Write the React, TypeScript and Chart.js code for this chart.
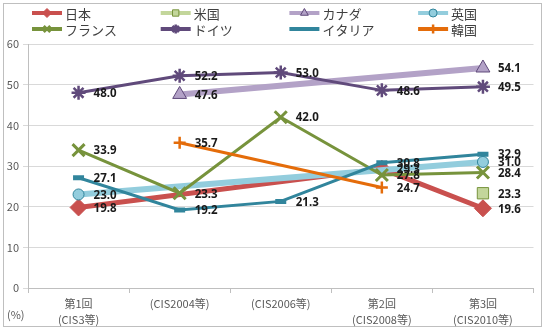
import React, { useEffect, useRef } from 'react';
import { Chart, registerables } from 'chart.js';
import { drawPoint } from 'chart.js/helpers';

Chart.register(...registerables);

// Survey rounds (x axis)
const categories: (string | string[])[] = [
  ['第1回', '(CIS3等)'],
  '(CIS2004等)',
  '(CIS2006等)',
  ['第2回', '(CIS2008等)'],
  ['第3回', '(CIS2010等)'],
];

const seriesNames = ['日本', '米国', 'カナダ', '英国', 'フランス', 'ドイツ', 'イタリア', '韓国'];

// Share (%) per country and round; null where no survey result
const japan = [19.8, null, null, 29.3, 19.6];
const usa = [null, null, null, null, 23.3];
const canada = [null, 47.6, null, null, 54.1];
const uk = [23.0, null, null, null, 31.0];
const france = [33.9, 23.3, 42.0, 27.8, 28.4];
const germany = [48.0, 52.2, 53.0, 48.6, 49.5];
const italy = [27.1, 19.2, 21.3, 30.8, 32.9];
const korea = [null, 35.7, null, 24.7, null];

const yMin = 0;
const yMax = 60;
const yStep = 10;

type Style = {
  color: string;
  width: number;
  point: string;
  radius: number;
  fill: string;
  edge: string;
  edgeWidth: number;
};

const styles: Style[] = [
  { color: '#C9504E', width: 5, point: 'rectRot', radius: 8.5, fill: '#C9504E', edge: '#C9504E', edgeWidth: 1 },
  { color: '#C3D69B', width: 5, point: 'rect', radius: 8, fill: '#C3D69B', edge: '#77933C', edgeWidth: 1 },
  { color: '#B3A2C7', width: 6, point: 'triangle', radius: 8, fill: '#B3A2C7', edge: '#5F497A', edgeWidth: 1 },
  { color: '#93CDDD', width: 6, point: 'circle', radius: 5.5, fill: '#93CDDD', edge: '#31859C', edgeWidth: 1 },
  { color: '#77933C', width: 3, point: 'crossRot', radius: 8.5, fill: '#77933C', edge: '#77933C', edgeWidth: 3 },
  { color: '#604A7B', width: 3, point: 'star', radius: 7, fill: '#604A7B', edge: '#604A7B', edgeWidth: 2.5 },
  { color: '#31859C', width: 3, point: 'line', radius: 5.5, fill: '#31859C', edge: '#31859C', edgeWidth: 5 },
  { color: '#E46C0A', width: 3, point: 'cross', radius: 6, fill: '#E46C0A', edge: '#E46C0A', edgeWidth: 2.5 },
];

const seriesValues = [japan, usa, canada, uk, france, germany, italy, korea];

const CJK = '"Noto Sans CJK JP", "Noto Sans", sans-serif';

// White background, outer frame and the "(%)" unit note
const framePlugin = {
  id: 'frame',
  beforeDraw(chart: any) {
    const { ctx, width, height } = chart;
    ctx.save();
    ctx.fillStyle = '#FFFFFF';
    ctx.fillRect(0, 0, width, height);
    ctx.strokeStyle = '#BFBFBF';
    ctx.lineWidth = 1;
    ctx.strokeRect(3.5, 3.5, width - 7, height - 6);
    ctx.restore();
  },
  afterDraw(chart: any) {
    const { ctx } = chart;
    ctx.save();
    ctx.font = `11px ${CJK}`;
    ctx.fillStyle = '#595959';
    ctx.textAlign = 'left';
    ctx.textBaseline = 'middle';
    ctx.fillText('(%)', 7, 315);
    ctx.restore();
  },
};

// Value labels to the right of each point
const valueLabels = {
  id: 'valueLabels',
  afterDatasetsDraw(chart: any) {
    const { ctx } = chart;
    ctx.save();
    ctx.font = 'bold 11.5px "Noto Sans", "DejaVu Sans", sans-serif';
    ctx.fillStyle = '#1A1A1A';
    ctx.textAlign = 'left';
    ctx.textBaseline = 'middle';
    chart.data.datasets.forEach((ds: any, i: number) => {
      const meta = chart.getDatasetMeta(i);
      meta.data.forEach((pt: any, j: number) => {
        const v = ds.data[j];
        if (v === null || v === undefined) return;
        ctx.fillText(v.toFixed(1), pt.x + 15, pt.y + 1);
      });
    });
    ctx.restore();
  },
};

// Four-column, two-row legend across the top
const gridLegend = {
  id: 'gridLegend',
  afterDraw(chart: any) {
    const { ctx } = chart;
    ctx.save();
    chart.data.datasets.forEach((ds: any, i: number) => {
      const st = styles[i];
      const col = i % 4;
      const row = Math.floor(i / 4);
      const sx = 32 + col * 128.7;
      const sy = 13 + row * 16;
      ctx.strokeStyle = st.color;
      ctx.lineWidth = 4;
      ctx.lineCap = 'butt';
      ctx.beginPath();
      ctx.moveTo(sx, sy);
      ctx.lineTo(sx + 30, sy);
      ctx.stroke();
      ctx.fillStyle = st.fill;
      ctx.strokeStyle = st.edge;
      ctx.lineWidth = Math.min(st.edgeWidth, 2.5);
      drawPoint(ctx, { pointStyle: st.point as any, radius: st.point === 'circle' ? 4 : 4.5, rotation: 0, borderWidth: ctx.lineWidth }, sx + 15, sy);
      ctx.font = `13px ${CJK}`;
      ctx.fillStyle = '#404040';
      ctx.textAlign = 'left';
      ctx.textBaseline = 'middle';
      ctx.fillText(ds.label, sx + 33, sy + 1);
    });
    ctx.restore();
  },
};

export default function App() {
  const ref = useRef<HTMLCanvasElement | null>(null);

  useEffect(() => {
    if (!ref.current) return;
    const datasets = seriesNames.map((name, i) => {
      const st = styles[i];
      return {
        label: name,
        data: seriesValues[i],
        borderColor: st.color,
        backgroundColor: st.fill,
        borderWidth: st.width,
        pointStyle: st.point,
        pointRadius: st.radius,
        pointBackgroundColor: st.fill,
        pointBorderColor: st.edge,
        pointBorderWidth: st.edgeWidth,
        tension: 0,
        spanGaps: true,
        fill: false,
        order: seriesNames.length - i,
      };
    });

    const chart = new Chart(ref.current, {
      type: 'line',
      data: { labels: categories, datasets: datasets as any },
      options: {
        responsive: false,
        animation: false,
        events: [],
        layout: { padding: { top: 44, left: 0, right: 5, bottom: 0 } },
        plugins: {
          legend: { display: false },
          tooltip: { enabled: false },
        },
        scales: {
          x: {
            offset: true,
            grid: { offset: true, drawOnChartArea: false, tickLength: 5, color: '#BFBFBF' },
            border: { color: '#BFBFBF' },
            ticks: {
              font: { family: CJK, size: 11, lineHeight: 1.45 },
              color: '#595959',
              padding: 3,
              maxRotation: 0,
              autoSkip: false,
            },
            afterFit: (s: any) => {
              s.height = 41;
            },
          },
          y: {
            min: yMin,
            max: yMax,
            ticks: {
              stepSize: yStep,
              font: { family: CJK, size: 11 },
              color: '#595959',
              padding: 4,
            },
            grid: { color: '#D9D9D9', tickLength: 5 },
            border: { color: '#BFBFBF' },
            afterFit: (s: any) => {
              s.width = 28;
            },
          },
        },
      },
      plugins: [framePlugin, valueLabels, gridLegend],
    });
    return () => chart.destroy();
  }, []);

  return (
    <div style={{ position: 'fixed', left: 0, top: 0, width: 545, height: 329 }}>
      <canvas ref={ref} width={545} height={329} style={{ display: 'block' }} />
    </div>
  );
}
